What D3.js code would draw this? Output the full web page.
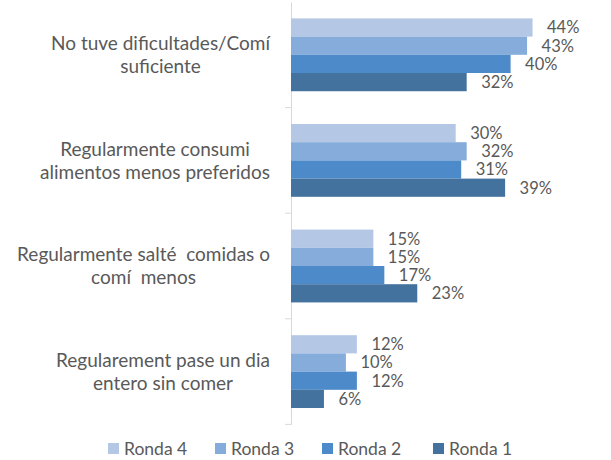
<!DOCTYPE html>
<html>
<head>
<meta charset="utf-8">
<script src="https://cdn.jsdelivr.net/npm/d3@7/dist/d3.min.js"></script>
<style>
  html, body { margin: 0; padding: 0; background: #ffffff; }
  svg { display: block; }
  text { font-family: Lato, "Open Sans", sans-serif; fill: #595959; }
</style>
</head>
<body>
<svg id="chart" width="611" height="460"></svg>
<script>
// Food access answers by survey round (share of households)
const categories = [
  ["No tuve dificultades/Comí", "suficiente"],
  ["Regularmente consumi", "alimentos menos preferidos"],
  ["Regularmente salté  comidas o", "comí  menos"],
  ["Regularement pase un dia", "entero sin comer"]
];
const rounds = ["Ronda 4", "Ronda 3", "Ronda 2", "Ronda 1"];
const ronda4 = [44, 30, 15, 12];
const ronda3 = [43, 32, 15, 10];
const ronda2 = [40, 31, 17, 12];
const ronda1 = [32, 39, 23, 6];
const seriesValues = [ronda4, ronda3, ronda2, ronda1];
const colors = ["#b4c8e6", "#86acdb", "#4d8ac9", "#44729f"];

const svg = d3.select("#chart");
const axisX = 291;
const catKeys = categories.map((c, i) => i);

const x = d3.scaleLinear().domain([0, 50]).range([axisX, axisX + 274.5]);
const y = d3.scaleBand().domain(catKeys).range([2, 424.4]).paddingInner(0).paddingOuter(0);
const y1 = d3.scaleBand().domain(rounds).range([0, y.bandwidth()]).paddingInner(0).paddingOuter(0.9);

// category axis: vertical line with ticks between the groups
const axisG = svg.append("g").attr("transform", `translate(${axisX},0)`);
const yAxis = d3.axisLeft(y).tickSize(0).tickFormat("");
axisG.call(yAxis);
axisG.select(".domain").attr("stroke", "#d9d9d9").attr("stroke-width", 1);
const boundaries = d3.range(1, categories.length + 1).map(i => y.range()[0] + i * y.step());
axisG.selectAll("line.sep").data(boundaries).enter().append("line")
  .attr("class", "sep")
  .attr("x1", -6).attr("x2", 0)
  .attr("y1", d => d).attr("y2", d => d)
  .attr("stroke", "#d9d9d9").attr("stroke-width", 1);

// bars
const groups = svg.append("g").selectAll("g.cat").data(catKeys).enter().append("g")
  .attr("class", "cat")
  .attr("transform", d => `translate(0,${y(d)})`);

const cells = groups.selectAll("g.bar")
  .data(ci => rounds.map((r, si) => ({ r, si, v: seriesValues[si][ci] })))
  .enter().append("g").attr("class", "bar");

cells.append("rect")
  .attr("x", x(0))
  .attr("y", d => y1(d.r))
  .attr("width", d => x(d.v) - x(0))
  .attr("height", y1.bandwidth())
  .attr("fill", d => colors[d.si]);

cells.append("text")
  .attr("x", d => x(d.v) + 14.5)
  .attr("y", d => y1(d.r) + y1.bandwidth() / 2)
  .attr("dy", "0.36em")
  .attr("font-size", 16.5)
  .text(d => d.v + "%");

// category labels, wrapped block right-aligned, lines centred within it
const labelRight = 270;
const lineH = 23;
catKeys.forEach(ci => {
  const lines = categories[ci];
  const g = svg.append("g");
  const cy = y(ci) + y.bandwidth() / 2;
  const texts = lines.map((ln, li) => g.append("text")
    .attr("font-size", 19)
    .style("white-space", "pre")
    .attr("y", cy + (li - (lines.length - 1) / 2) * lineH)
    .attr("dy", "0.36em")
    .attr("text-anchor", "middle")
    .text(ln));
  const maxW = d3.max(texts, t => t.node().getComputedTextLength());
  texts.forEach(t => t.attr("x", labelRight - maxW / 2));
});

// legend
const legendX = [108, 215, 322, 433];
const legend = svg.append("g").selectAll("g").data(rounds).enter().append("g")
  .attr("transform", (d, i) => `translate(${legendX[i]},448.5)`);
legend.append("rect")
  .attr("x", 0).attr("y", -5.5).attr("width", 11).attr("height", 11)
  .attr("fill", (d, i) => colors[i]);
legend.append("text")
  .attr("x", 16).attr("y", 0).attr("dy", "0.36em")
  .attr("font-size", 17.5)
  .text(d => d);
</script>
</body>
</html>
